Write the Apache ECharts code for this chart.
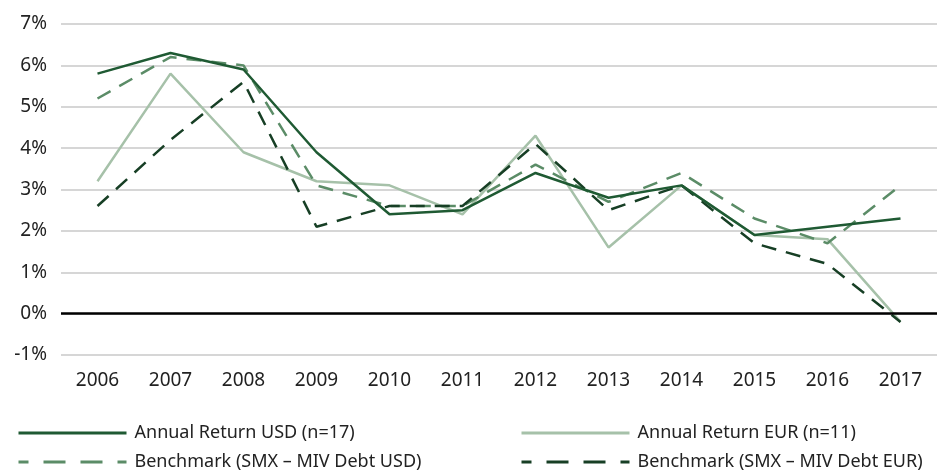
<!DOCTYPE html>
<html>
<head>
<meta charset="utf-8">
<script src="https://cdn.jsdelivr.net/npm/echarts@6/dist/echarts.min.js"></script>
<style>
  html, body { margin: 0; padding: 0; background: #fff; }
  #chart { width: 939px; height: 472px; }
</style>
</head>
<body>
<div id="chart"></div>
<script>
// years on the x axis
const years = ['2006', '2007', '2008', '2009', '2010', '2011', '2012', '2013', '2014', '2015', '2016', '2017']
// annual returns in %
const usdReturn = [5.8, 6.3, 5.9, 3.9, 2.4, 2.5, 3.4, 2.8, 3.1, 1.9, 2.1, 2.3]
const eurReturn = [3.2, 5.8, 3.9, 3.2, 3.1, 2.4, 4.3, 1.6, 3.1, 1.9, 1.8, -0.2]
const benchUsd = [5.2, 6.2, 6.0, 3.1, 2.6, 2.6, 3.6, 2.7, 3.4, 2.3, 1.7, 3.1]
const benchEur = [2.6, 4.2, 5.6, 2.1, 2.6, 2.6, 4.1, 2.5, 3.1, 1.7, 1.2, -0.2]

const names = [
  'Annual Return USD (n=17)',
  'Annual Return EUR (n=11)',
  'Benchmark (SMX – MIV Debt USD)',
  'Benchmark (SMX – MIV Debt EUR)'
]

const font = 'Noto Sans'
const chart = echarts.init(document.getElementById('chart'))

function line(name, data, color, dashed, z) {
  return {
    name: name,
    type: 'line',
    data: data,
    symbol: 'none',
    z: z,
    lineStyle: { color: color, width: 2.5, type: dashed ? [15, 10] : 'solid' },
    itemStyle: { color: color }
  }
}

// one legend per entry so each can sit where the original has it
function legend(name, left, top, dashed) {
  return {
    left: left,
    top: top,
    data: [name],
    itemWidth: 108,
    itemHeight: 20,
    itemStyle: { opacity: 0 },
    lineStyle: dashed ? { type: [22, 15], dashOffset: 12, width: 3 } : { width: 3 },
    textStyle: { fontFamily: font, fontSize: 18, color: '#222', padding: [0, 0, 0, 3] }
  }
}

chart.setOption({
  animation: false,
  grid: { left: 61, right: 2, top: 24, bottom: 117 },
  legend: [
    legend(names[0], 12, 419, false),
    legend(names[1], 515, 419, false),
    legend(names[2], 12, 448, true),
    legend(names[3], 515, 448, true)
  ],
  xAxis: {
    type: 'category',
    data: years,
    boundaryGap: true,
    axisLine: { show: false },
    axisTick: { show: false },
    axisLabel: { fontFamily: font, fontSize: 19, color: '#222', margin: 16 }
  },
  yAxis: {
    type: 'value',
    min: -1,
    max: 7,
    interval: 1,
    axisLabel: { formatter: '{value}%', fontFamily: font, fontSize: 19, color: '#222', margin: 14 },
    splitLine: { lineStyle: { color: '#d6d6d6', width: 2 } }
  },
  series: [
    line(names[0], usdReturn, '#1f5a33', false, 5),
    line(names[1], eurReturn, '#a6c1a9', false, 3),
    Object.assign(line(names[2], benchUsd, '#5b8c67', true, 4), {
      markLine: {
        silent: true,
        symbol: 'none',
        label: { show: false },
        lineStyle: { color: '#000', width: 2.5, type: 'solid' },
        data: [{ yAxis: 0 }]
      }
    }),
    line(names[3], benchEur, '#173f25', true, 4)
  ]
})
</script>
</body>
</html>
